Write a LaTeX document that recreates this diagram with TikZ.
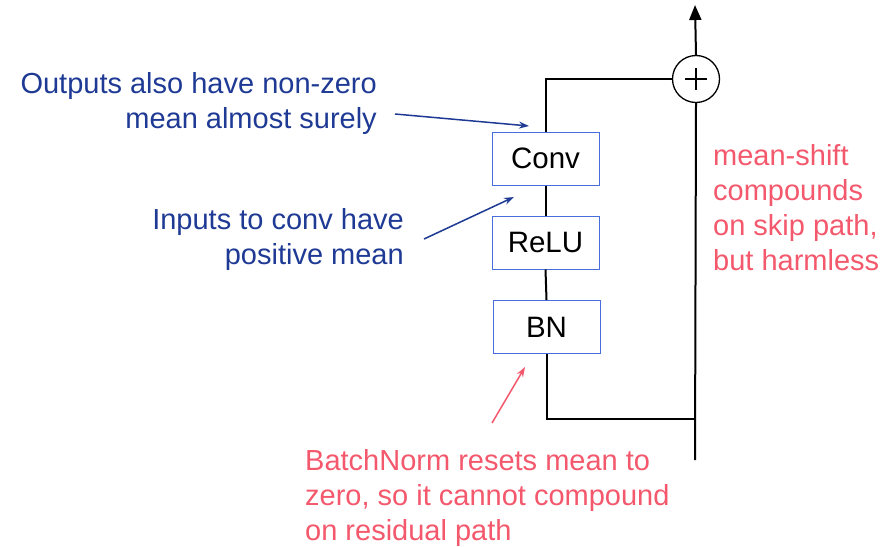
\documentclass[tikz,border=0pt]{standalone}
\usepackage{fontspec}
\setmainfont{Liberation Sans}
\usetikzlibrary{arrows.meta}
\definecolor{navy}{RGB}{30,58,148}
\definecolor{pinkred}{RGB}{243,88,108}
\definecolor{boxblue}{RGB}{72,110,222}
\begin{document}
\begin{tikzpicture}[x=1pt,y=-1pt,
  layer/.style={draw=boxblue,line width=1pt,minimum width=107pt,minimum height=53pt,inner sep=0pt,font=\fontsize{29.5}{32}\selectfont},
  wire/.style={line width=2pt,black},
  bluenote/.style={text=navy,font=\fontsize{29}{35}\selectfont,align=right,inner sep=0pt},
  rednote/.style={text=pinkred,font=\fontsize{29}{35}\selectfont,align=left,inner sep=0pt},
  bluearrow/.style={navy,line width=1.5pt,-{Stealth[length=10pt,width=7pt]}},
  redarrow/.style={pinkred,line width=1.5pt,-{Stealth[length=10pt,width=7pt]}}]
\useasboundingbox (0,0) rectangle (891,546);
\node[layer] (conv) at (545.5,158.5) {Conv};
\node[layer] (relu) at (545.5,242.5) {ReLU};
\node[layer] (bn) at (546.5,327) {BN};
\node[circle,draw,line width=1.3pt,minimum size=47pt,inner sep=0pt,
  path picture={\draw[line width=2.8pt] ([xshift=-11pt]path picture bounding box.center) -- ([xshift=11pt]path picture bounding box.center);
  \draw[line width=2.8pt] ([yshift=-11pt]path picture bounding box.center) -- ([yshift=11pt]path picture bounding box.center);}] (plus) at (696,79) {};
\coordinate (bl) at (546.5,419);
\coordinate (br) at (695,419);
\coordinate (bend) at (695,460);
\coordinate (top) at (695,5);
\draw[wire] (conv.north) |- (plus.west);
\draw[wire] (conv.south) -- (relu.north);
\draw[wire] (relu.south) -- (bn.north);
\draw[wire] (bn.south) -- (bl) -- (br);
\draw[wire] (bend) -- (plus.south);
\draw[wire,-{Triangle[length=15pt,width=12pt]}] (plus.north) -- (top);
\node[bluenote,anchor=base east] (n1) at (377,128) {Outputs also have non-zero\\mean almost surely};
\node[bluenote,anchor=base east] (n2) at (404,264) {Inputs to conv have\\positive mean};
\node[rednote,anchor=base west] (n3) at (713,270) {mean-shift\\compounds\\on skip path,\\but harmless};
\node[rednote,anchor=base west] (n4) at (305,540) {BatchNorm resets mean to\\zero, so it cannot compound\\on residual path};
\coordinate (a1s) at (395,114);
\coordinate (a1e) at (529,126);
\coordinate (a2s) at (424,239);
\coordinate (a2e) at (514,197);
\coordinate (a3s) at (492,423);
\coordinate (a3e) at (525,367);
\draw[bluearrow] (a1s) -- (a1e);
\draw[bluearrow] (a2s) -- (a2e);
\draw[redarrow] (a3s) -- (a3e);
\end{tikzpicture}
\end{document}
